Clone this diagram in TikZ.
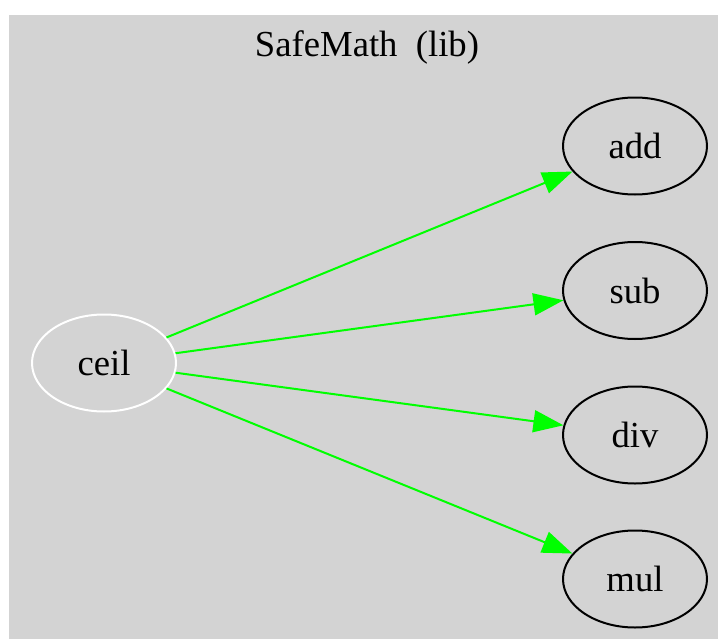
\documentclass[tikz,border=0pt]{standalone}
\usepackage{fontspec}
\setmainfont{Liberation Serif}
\usetikzlibrary{arrows.meta,shapes.geometric}
\definecolor{bggray}{HTML}{D3D3D3}
\definecolor{edgegreen}{HTML}{00FF00}
\tikzset{
  fn/.style={ellipse, draw=black, line width=1.5pt, minimum width=108pt, minimum height=72.75pt, inner sep=0pt, font=\fontsize{27.5}{30}\selectfont},
  fnwhite/.style={fn, draw=white},
  call/.style={draw=edgegreen, line width=1.5pt, -{Triangle[length=22.5pt, width=16.5pt]}, edgegreen}
}
\begin{document}
\begin{tikzpicture}[x=0.75pt, y=-0.75pt]
\useasboundingbox (0,0) rectangle (718,639);
\fill[bggray] (9,15) rectangle (718,639);
\node[font=\fontsize{27.5}{30}\selectfont] (title) at (367,47) {SafeMath\ \ (lib)};
\node[fnwhite] (ceil) at (104,363) {ceil};
\node[fn] (add) at (635,146) {add};
\node[fn] (sub) at (635,290.5) {sub};
\node[fn] (div) at (635,435) {div};
\node[fn] (mul) at (635,579) {mul};
\draw[call] (ceil) -- (add);
\draw[call] (ceil) -- (sub);
\draw[call] (ceil) -- (div);
\draw[call] (ceil) -- (mul);
\end{tikzpicture}
\end{document}
